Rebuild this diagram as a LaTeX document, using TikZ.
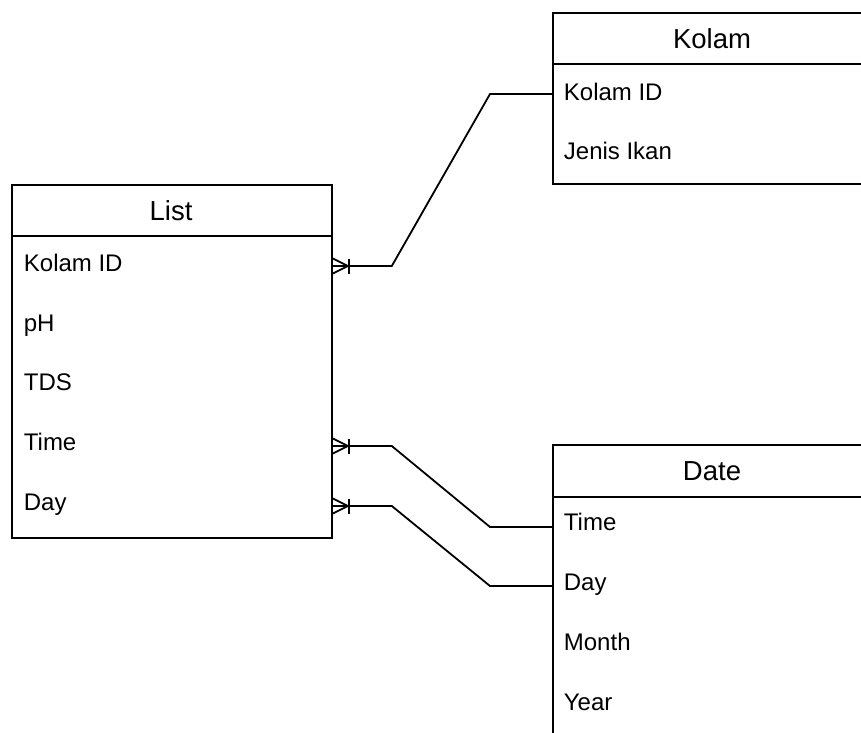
\documentclass[tikz,border=0pt]{standalone}
\usepackage{fontspec}
\setmainfont{Liberation Sans}
\usetikzlibrary{calc}
\begin{document}
\begin{tikzpicture}[x=1pt,y=-1pt,line width=1.8pt,
  entity/.style={draw,anchor=north west,minimum width=320pt,inner sep=0pt},
  title/.style={font=\fontsize{27.5}{30}\selectfont,inner sep=0pt,text height=19.5pt,text depth=0pt},
  field/.style={font=\fontsize{24}{28}\selectfont,anchor=west,inner sep=0pt,text height=17.2pt,text depth=0pt},
  link/.style={line width=1.8pt}]
\useasboundingbox (0,0) rectangle (861,732);

% crow's foot (many) end at a box edge, pointing right
\newcommand\manyend[1]{%
  \draw[link] ($(#1)+(0,-7.5)$) -- ($(#1)+(15,0)$) -- ($(#1)+(0,7.5)$);
  \draw[link] ($(#1)+(16.5,-7.5)$) -- ($(#1)+(16.5,7.5)$);}

% ---------- Kolam ----------
\node[entity,minimum height=171pt] (kolam) at (552,12) {};
\draw (552,64) -- (872,64);
\node[title] (kolamT) at (712,38.5) {Kolam};
\node[field] (kKid) at (563,92) {Kolam ID};
\node[field] (kJenis) at (563,151) {Jenis Ikan};

% ---------- List ----------
\node[entity,minimum height=353pt] (list) at (11,184) {};
\draw (11,236) -- (331,236);
\node[title] (listT) at (171,210.5) {List};
\node[field] (lKid) at (23,263) {Kolam ID};
\node[field] (lPh) at (23,323) {pH};
\node[field] (lTds) at (23,382) {TDS};
\node[field] (lTime) at (23,442) {Time};
\node[field] (lDay) at (23,502) {Day};

% ---------- Date ----------
\node[entity,minimum height=320pt] (date) at (552,444) {};
\draw (552,497) -- (872,497);
\node[title] (dateT) at (712,471) {Date};
\node[field] (dTime) at (563,522) {Time};
\node[field] (dDay) at (563,582) {Day};
\node[field] (dMonth) at (563,642) {Month};
\node[field] (dYear) at (563,702) {Year};

% connector end points on the box edges
\coordinate (pK1) at (list.east |- 0,266);
\coordinate (pK2) at (kolam.west |- 0,94);
\coordinate (pT1) at (list.east |- 0,446);
\coordinate (pT2) at (date.west |- 0,527);
\coordinate (pD1) at (list.east |- 0,506);
\coordinate (pD2) at (date.west |- 0,586);

% ---------- relationships ----------
\draw[link] (pK1) -- ++(59,0) -- ($(pK2)+(-62,0)$) -- (pK2);
\draw[link] (pT1) -- ++(59,0) -- ($(pT2)+(-62,0)$) -- (pT2);
\draw[link] (pD1) -- ++(59,0) -- ($(pD2)+(-62,0)$) -- (pD2);
\manyend{pK1}
\manyend{pT1}
\manyend{pD1}
\end{tikzpicture}
\end{document}
